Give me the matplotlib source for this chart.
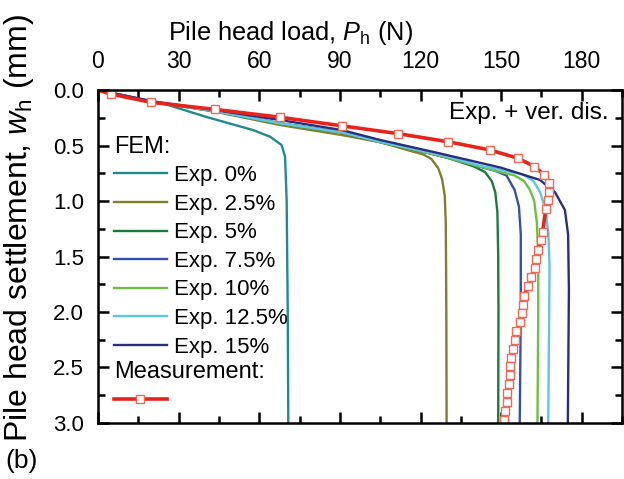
import matplotlib
matplotlib.use("Agg")
import matplotlib.pyplot as plt
from matplotlib.lines import Line2D
from matplotlib.ticker import MultipleLocator

plt.rcParams['font.family'] = ['Liberation Sans', 'DejaVu Sans']
plt.rcParams['mathtext.fontset'] = 'custom'
plt.rcParams['mathtext.rm'] = 'Liberation Sans'
plt.rcParams['mathtext.it'] = 'Liberation Sans:italic'

# ---------------- data ----------------
p_exp0 = [0, 20, 25.5, 40, 57.6, 64, 68.3, 69.6, 70.2, 70.6, 70.8]
w_exp0 = [0, 0.10, 0.13, 0.24, 0.36, 0.42, 0.495, 0.6, 1.0, 2.0, 3.0]

p_exp25 = [0, 20, 43.5, 67.7, 90.6, 105, 115, 121, 124, 126.5, 128, 129, 129.4, 129.6, 129.7]
w_exp25 = [0, 0.105, 0.195, 0.315, 0.405, 0.47, 0.54, 0.58, 0.62, 0.70, 0.80, 0.95, 1.2, 2.0, 3.0]

p_exp5 = [0, 20, 43.5, 67.7, 90.6, 105, 120, 130, 140, 144, 146.5, 147.8, 148.6, 148.9, 149.0, 148.9]
w_exp5 = [0, 0.105, 0.19, 0.30, 0.38, 0.47, 0.55, 0.61, 0.69, 0.74, 0.82, 0.92, 1.1, 1.5, 2.0, 3.0]

p_exp75 = [0, 20, 43.5, 67.7, 90.6, 105, 120, 130, 142, 148, 152, 155, 156.6, 157.3, 157.3, 156.9]
w_exp75 = [0, 0.105, 0.19, 0.30, 0.38, 0.47, 0.55, 0.61, 0.69, 0.73, 0.77, 0.90, 1.05, 1.3, 2.0, 3.0]

p_exp10 = [0, 20, 43.5, 67.7, 90.6, 105, 120, 130, 142, 150, 155, 158.5, 160.7, 162.3, 163.3, 163.8, 163.8, 163.5]
w_exp10 = [0, 0.105, 0.19, 0.30, 0.38, 0.47, 0.55, 0.61, 0.69, 0.74, 0.77, 0.82, 0.90, 1.0, 1.2, 1.5, 2.0, 3.0]

p_exp125 = [0, 20, 43.5, 67.7, 90.6, 105, 120, 130, 142, 150, 158, 162, 164.5, 166.5, 167.6, 168.0, 167.8, 167.5]
w_exp125 = [0, 0.105, 0.19, 0.30, 0.38, 0.465, 0.545, 0.60, 0.68, 0.72, 0.76, 0.82, 0.92, 1.08, 1.3, 1.6, 2.2, 3.0]

p_exp15 = [0, 20, 43.5, 67.7, 90.6, 105, 127, 150, 164.4, 170, 173.7, 174.9, 175.2, 174.8]
w_exp15 = [0, 0.10, 0.18, 0.27, 0.36, 0.45, 0.57, 0.70, 0.81, 0.92, 1.08, 1.3, 1.8, 3.0]

p_meas = [0, 4.7, 19.7, 43.5, 67.7, 90.6, 111.7, 130.3, 145.8, 156.3, 162.4, 166.1, 167.7, 167.8,
          167.5, 166.6, 165.4, 164.8, 163.8, 163.0, 162.6, 161.0, 159.8, 158.4, 158.2, 157.6,
          156.9, 155.7, 155.1, 154.4, 153.8, 153.2, 153.2, 153.0, 152.0, 152.0, 151.4, 151.1]
w_meas = [0, 0.036, 0.11, 0.174, 0.245, 0.322, 0.393, 0.466, 0.54, 0.615, 0.69, 0.766, 0.84, 0.916,
          0.995, 1.075, 1.28, 1.355, 1.445, 1.52, 1.6, 1.685, 1.77, 1.86, 1.937, 2.01,
          2.087, 2.17, 2.25, 2.336, 2.417, 2.49, 2.567, 2.65, 2.73, 2.81, 2.89, 2.97]

fem_labels = ["Exp. 0%", "Exp. 2.5%", "Exp. 5%", "Exp. 7.5%", "Exp. 10%", "Exp. 12.5%", "Exp. 15%"]
fem_colors = ["#1e8c8c", "#7f7f2c", "#1b7a3c", "#3551ad", "#6cc043", "#5ec6e2", "#2b2d7e"]
fem_p = [p_exp0, p_exp25, p_exp5, p_exp75, p_exp10, p_exp125, p_exp15]
fem_w = [w_exp0, w_exp25, w_exp5, w_exp75, w_exp10, w_exp125, w_exp15]

x_ticks = [0, 30, 60, 90, 120, 150, 180]
y_ticks = [0.0, 0.5, 1.0, 1.5, 2.0, 2.5, 3.0]

# ---------------- figure ----------------
fig = plt.figure(figsize=(6.24, 4.79), dpi=100)
ax = fig.add_axes([0.157, 0.117, 0.840, 0.695])

handles = []
for p, w, c, lab in zip(fem_p, fem_w, fem_colors, fem_labels):
    h, = ax.plot(p, w, color=c, lw=1.7, label=lab)
    handles.append(h)

hm, = ax.plot(p_meas, w_meas, color="#e8231c", lw=2.6, marker="s", ms=5.5,
              mfc="white", mec="#ee6a55", mew=1.0, markevery=list(range(1, len(p_meas))))

ax.set_xlim(0, 195)
ax.set_ylim(3.0, 0.0)
ax.set_xticks(x_ticks)
ax.set_yticks(y_ticks)
ax.set_yticklabels([f"{v:.1f}" for v in y_ticks])
ax.xaxis.set_minor_locator(MultipleLocator(15))
ax.yaxis.set_minor_locator(MultipleLocator(0.25))
ax.tick_params(which="both", direction="in", top=True, bottom=True, left=True, right=True,
               labeltop=True, labelbottom=False, width=1.8)
ax.tick_params(axis="x", labelsize=16.5, pad=12.5)
ax.tick_params(axis="y", labelsize=16, pad=10)
ax.tick_params(which="major", length=8)
ax.tick_params(which="minor", length=5)
for s in ax.spines.values():
    s.set_linewidth(1.8)

ax.xaxis.set_label_position("top")
ax.set_xlabel(r"Pile head load, $\mathit{P}_\mathrm{h}$ (N)", fontsize=18.3)
ax.xaxis.set_label_coords(0.368, 1.15)
ax.set_ylabel(r"Pile head settlement, $\mathit{w}_\mathrm{h}$ (mm)", fontsize=23)
ax.yaxis.set_label_coords(-0.118, 0.585)

ax.text(0.975, 0.93, "Exp. + ver. dis.", transform=ax.transAxes, ha="right", va="center",
        fontsize=17.5)

leg1 = ax.legend(handles=handles, title="FEM:", loc="upper left", bbox_to_anchor=(0.03, 0.863),
                 frameon=False, fontsize=16, title_fontsize=17, alignment="left",
                 handlelength=2.4, handletextpad=0.3, labelspacing=0.34, borderpad=0,
                 borderaxespad=0)
ax.add_artist(leg1)
leg2 = ax.legend(handles=[Line2D([], [], color="#e8231c", lw=2.6, marker="s", ms=5.5,
                                 mfc="white", mec="#ee6a55", mew=1.0)],
                 labels=[""], title="Measurement:", loc="upper left",
                 bbox_to_anchor=(0.03, 0.185), frameon=False, fontsize=16, title_fontsize=17,
                 alignment="left", handlelength=2.4, handletextpad=0.3, labelspacing=0.34,
                 borderpad=0, borderaxespad=0)

fig.text(0.008, 0.012, "(b)", fontsize=19, ha="left", va="bottom")

fig.savefig("out.png", dpi=100)
